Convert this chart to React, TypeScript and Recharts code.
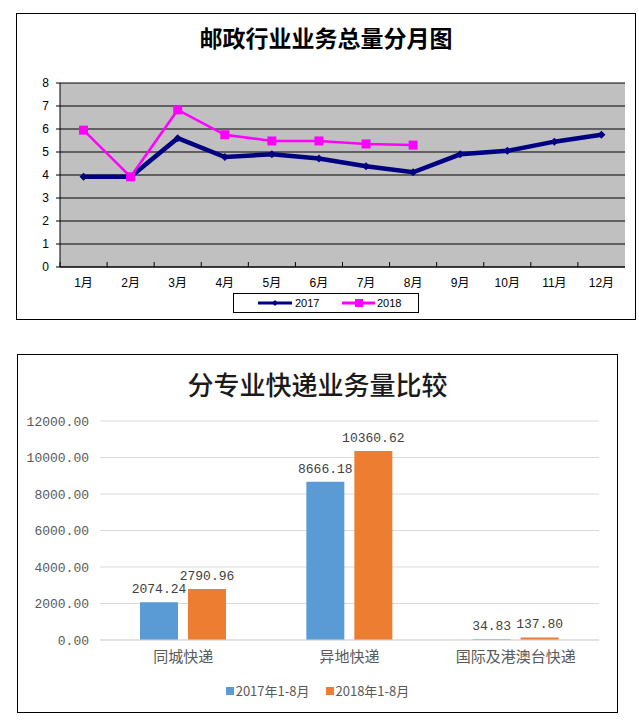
import React from "react";
import {
  Bar,
  BarChart,
  CartesianGrid,
  ComposedChart,
  LabelList,
  Line,
  XAxis,
  YAxis,
} from "recharts";

// 邮政行业业务总量分月图
const months = ["1月", "2月", "3月", "4月", "5月", "6月", "7月", "8月", "9月", "10月", "11月", "12月"];
const volume2017 = [3.92, 3.92, 5.6, 4.78, 4.9, 4.72, 4.38, 4.12, 4.9, 5.05, 5.45, 5.75];
const volume2018 = [5.95, 3.92, 6.83, 5.75, 5.48, 5.48, 5.35, 5.3, null, null, null, null];
const volumeTicks = [0, 1, 2, 3, 4, 5, 6, 7, 8];

// 分专业快递业务量比较
const expressTypes = ["同城快递", "异地快递", "国际及港澳台快递"];
const express2017 = [2074.24, 8666.18, 34.83];
const express2018 = [2790.96, 10360.62, 137.8];
const expressTicks = [0, 2000, 4000, 6000, 8000, 10000, 12000];

const monthData = months.map((m, i) => ({ month: m, y2017: volume2017[i], y2018: volume2018[i] }));
const expressData = expressTypes.map((t, i) => ({ type: t, a: express2017[i], b: express2018[i] }));

const NAVY = "#000080";
const MAGENTA = "#FF00FF";
const BLUE = "#5B9BD5";
const ORANGE = "#ED7D31";
const sans = "'Liberation Sans', 'Noto Sans CJK SC', sans-serif";
const cjk = "'Noto Sans CJK SC', sans-serif";
const mono = "'Liberation Mono', 'DejaVu Sans Mono', monospace";

const Diamond = (props: any) => {
  const { cx, cy, index } = props;
  if (cx == null || cy == null) return <g key={index} />;
  const r = 4;
  return (
    <polygon
      key={index}
      points={`${cx},${cy - r} ${cx + r},${cy} ${cx},${cy + r} ${cx - r},${cy}`}
      fill={NAVY}
    />
  );
};

const Square = (props: any) => {
  const { cx, cy, index } = props;
  if (cx == null || cy == null) return <g key={index} />;
  return <rect key={index} x={cx - 4.5} y={cy - 4.5} width={9} height={9} fill={MAGENTA} />;
};

const MonthTick = (props: any) => {
  const { x, y, payload } = props;
  const half = payload.offset || 565 / 24;
  return (
    <g>
      <line x1={x - half} y1={y} x2={x - half} y2={y - 5} stroke="#000" />
      <text x={x} y={y + 20} textAnchor="middle" fontSize={12} fontFamily={sans} fill="#000">
        {payload.value}
      </text>
    </g>
  );
};

const LineLegend = () => (
  <svg width={186} height={20} style={{ display: "block" }}>
    <rect x={0.5} y={0.5} width={185} height={19} fill="#fff" stroke="#000" />
    <line x1={25} y1={10} x2={59} y2={10} stroke={NAVY} strokeWidth={3} />
    <polygon points="42,7 45,10 42,13 39,10" fill={NAVY} />
    <text x={62} y={14} fontSize={11} fontFamily={sans} fill="#000">2017</text>
    <line x1={109} y1={10} x2={142} y2={10} stroke={MAGENTA} strokeWidth={3} />
    <rect x={122} y={6} width={8} height={8} fill={MAGENTA} />
    <text x={144} y={14} fontSize={11} fontFamily={sans} fill="#000">2018</text>
  </svg>
);

const BarLegend = () => (
  <div
    style={{
      display: "flex",
      justifyContent: "center",
      alignItems: "center",
      fontFamily: cjk,
      fontSize: 13,
      color: "#595959",
      gap: 16,
    }}
  >
    <span style={{ display: "flex", alignItems: "center" }}>
      <span style={{ width: 8, height: 8, background: BLUE, marginRight: 2 }} />
      2017年1-8月
    </span>
    <span style={{ display: "flex", alignItems: "center" }}>
      <span style={{ width: 8, height: 8, background: ORANGE, marginRight: 2 }} />
      2018年1-8月
    </span>
  </div>
);

const fmt2 = (v: any) => Number(v).toFixed(2);

export default function App() {
  return (
    <div style={{ position: "absolute", left: 0, top: 0, width: 639, height: 726, background: "#fff" }}>
      {/* chart 1 */}
      <div
        style={{
          position: "absolute",
          left: 16,
          top: 13,
          width: 620,
          height: 307,
          border: "1px solid #000",
          boxSizing: "border-box",
        }}
      >
        <div
          style={{
            position: "absolute",
            left: 0,
            right: 0,
            top: 8,
            textAlign: "center",
            fontFamily: cjk,
            fontWeight: 700,
            fontSize: 23,
            color: "#000",
            lineHeight: "30px",
          }}
        >
          邮政行业业务总量分月图
        </div>
        <ComposedChart
          width={618}
          height={305}
          data={monthData}
          margin={{ top: 69, right: 10, bottom: 22, left: 0 }}
        >
          <CartesianGrid fill="#C0C0C0" stroke="#000" vertical={false} />
          <XAxis
            dataKey="month"
            scale="band"
            interval={0}
            height={30}
            tickLine={false}
            tickSize={0}
            tickMargin={0}
            axisLine={{ stroke: "#000" }}
            tick={<MonthTick />}
          />
          <YAxis
            domain={[0, 8]}
            ticks={volumeTicks}
            width={43}
            interval={0}
            tickSize={4}
            tickMargin={7}
            axisLine={{ stroke: "#000" }}
            tickLine={{ stroke: "#000" }}
            tick={{ fontSize: 12, fontFamily: sans, fill: "#000" }}
          />
          <Line
            dataKey="y2017"
            stroke={NAVY}
            strokeWidth={4.5}
            dot={<Diamond />}
            activeDot={false}
            isAnimationActive={false}
          />
          <Line
            dataKey="y2018"
            stroke={MAGENTA}
            strokeWidth={2.5}
            dot={<Square />}
            activeDot={false}
            isAnimationActive={false}
          />
        </ComposedChart>
        <div style={{ position: "absolute", left: 216, top: 279 }}>
          <LineLegend />
        </div>
      </div>

      {/* chart 2 */}
      <div
        style={{
          position: "absolute",
          left: 17,
          top: 354,
          width: 601,
          height: 359,
          border: "1px solid #000",
          boxSizing: "border-box",
        }}
      >
        <div
          style={{
            position: "absolute",
            left: 0,
            right: 0,
            top: 12,
            textAlign: "center",
            fontFamily: cjk,
            fontSize: 26,
            fontWeight: 500,
            color: "#1a1a1a",
            lineHeight: "34px",
          }}
        >
          分专业快递业务量比较
        </div>
        <BarChart
          width={599}
          height={357}
          data={expressData}
          margin={{ top: 66, right: 18, bottom: 42, left: 0 }}
          barSize={38}
          barGap={10}
        >
          <CartesianGrid stroke="#D9D9D9" vertical={false} />
          <XAxis
            dataKey="type"
            interval={0}
            height={30}
            tickLine={false}
            tickMargin={5}
            axisLine={{ stroke: "#D9D9D9" }}
            tick={{ fontSize: 15, fontFamily: cjk, fill: "#595959" }}
          />
          <YAxis
            domain={[0, 12000]}
            ticks={expressTicks}
            width={82}
            interval={0}
            axisLine={false}
            tickLine={false}
            tickMargin={5}
            tickFormatter={fmt2}
            tick={{ fontSize: 13, fontFamily: mono, fill: "#595959" }}
          />
          <Bar dataKey="a" name="2017年1-8月" fill={BLUE} isAnimationActive={false}>
            <LabelList
              dataKey="a"
              position="top"
              offset={9}
              formatter={fmt2}
              style={{ fontSize: 13, fontFamily: mono, fill: "#404040" }}
            />
          </Bar>
          <Bar dataKey="b" name="2018年1-8月" fill={ORANGE} isAnimationActive={false}>
            <LabelList
              dataKey="b"
              position="top"
              offset={9}
              formatter={fmt2}
              style={{ fontSize: 13, fontFamily: mono, fill: "#404040" }}
            />
          </Bar>
        </BarChart>
        <div style={{ position: "absolute", left: 0, right: 0, top: 326 }}>
          <BarLegend />
        </div>
      </div>
    </div>
  );
}
